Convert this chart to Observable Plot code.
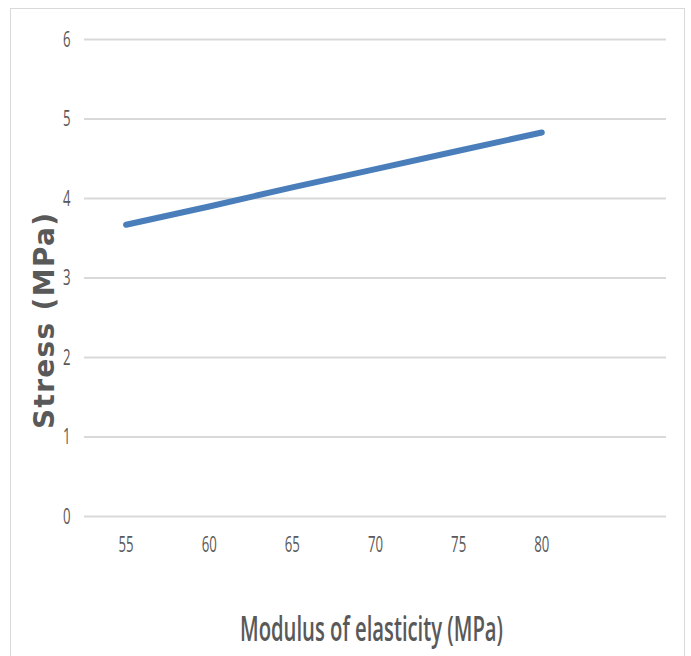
<!DOCTYPE html>
<html>
<head>
<meta charset="utf-8">
<script src="https://cdn.jsdelivr.net/npm/d3@7"></script>
<script src="https://cdn.jsdelivr.net/npm/@observablehq/plot@0.6"></script>
<style>
  html, body { margin: 0; padding: 0; background: #fff; overflow: hidden; }
  #wrap { position: relative; width: 691px; height: 656px; }
  #border { position: absolute; left: 10px; top: 8px; width: 675px; height: 700px; border: 1.5px solid #d9d9d9; box-sizing: border-box; pointer-events: none; }
  #chart { position: absolute; left: 0; top: 0; }
</style>
</head>
<body>
<div id="wrap"><div id="border"></div><div id="chart"></div></div>
<script>
const modulus = [55, 60, 65, 70, 75, 80];
const stress = [3.67, 3.90, 4.14, 4.37, 4.60, 4.83];
const xTicks = [55, 60, 65, 70, 75, 80];
const yTicks = [0, 1, 2, 3, 4, 5, 6];
const xTitle = "Modulus of elasticity (MPa)";
const yTitle = "Stress (MPa)";

const data = modulus.map((m, i) => ({m, s: stress[i]}));

const chart = Plot.plot({
  width: 691,
  height: 656,
  marginLeft: 84,
  marginRight: 25,
  marginTop: 39,
  marginBottom: 140,
  style: {background: "transparent", fontFamily: "'Open Sans', sans-serif", fontSize: "22px", color: "#595959"},
  x: {domain: [52.5, 87.5], ticks: xTicks, tickSize: 0, tickPadding: 20, tickFormat: d => String(d), label: null},
  y: {domain: [0, 6], ticks: yTicks, tickSize: 0, tickPadding: 14, tickFormat: d => String(d), label: null},
  marks: [
    Plot.ruleY(yTicks, {stroke: "#d9d9d9", strokeWidth: 2}),
    Plot.line(data, {x: "m", y: "s", stroke: "#4a7ebb", strokeWidth: 6, strokeLinecap: "round"}),
    Plot.text([xTitle], {frameAnchor: "bottom", dx: -4, dy: 124, lineAnchor: "bottom", fontSize: 34, fontWeight: 600, fill: "#595959"}),
    Plot.text([yTitle], {frameAnchor: "left", textAnchor: "middle", dx: -31, dy: 43, rotate: -90, lineAnchor: "bottom", fontSize: 28, fontWeight: "bold", fontFamily: "'DejaVu Sans', sans-serif", fill: "#595959"})
  ]
});
document.getElementById("chart").appendChild(chart);

// the reference is horizontally squeezed: compress tick labels and the x title
const tickSet = new Set([...xTicks, ...yTicks].map(String));
chart.querySelectorAll("text").forEach(t => {
  const s = t.textContent.trim();
  if (tickSet.has(s)) {
    const w = t.getComputedTextLength();
    t.setAttribute("textLength", (w * 0.6).toFixed(2));
    t.setAttribute("lengthAdjust", "spacingAndGlyphs");
  } else if (s === xTitle) {
    t.setAttribute("textLength", 263);
    t.setAttribute("lengthAdjust", "spacingAndGlyphs");
  } else if (s === yTitle) {
    t.setAttribute("textLength", 216);
    t.setAttribute("lengthAdjust", "spacing");
  }
});
</script>
</body>
</html>
